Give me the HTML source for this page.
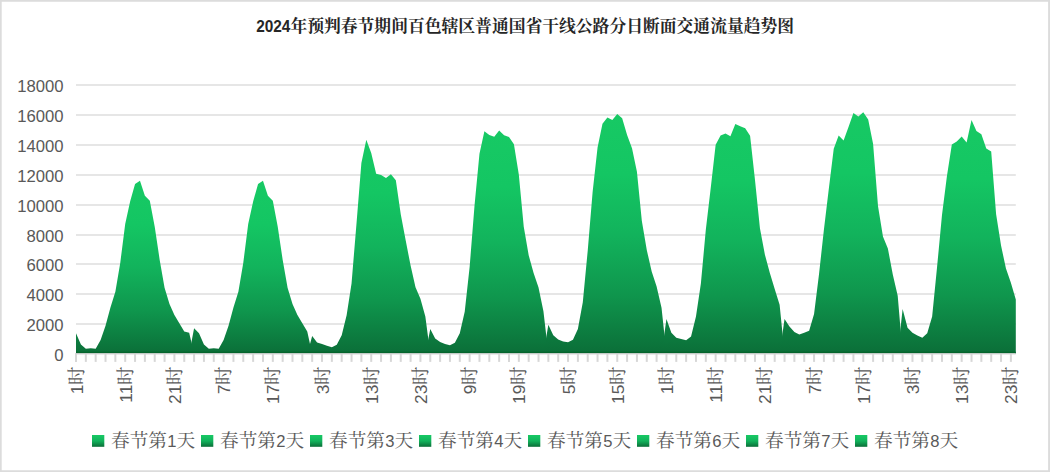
<!DOCTYPE html>
<html lang="zh-CN"><head><meta charset="utf-8"><title>2024年预判春节期间百色辖区普通国省干线公路分日断面交通流量趋势图</title>
<style>html,body{margin:0;padding:0;background:#fff}body{width:1050px;height:472px;overflow:hidden}svg{display:block}text{font-family:"Liberation Sans",sans-serif}text.cj{font-family:"Liberation Serif","Noto Serif CJK SC",serif;font-size:18.67px;text-anchor:start}text.tt{font-family:"Liberation Serif","Noto Serif CJK SC",serif;font-size:16.79px;font-weight:bold;text-anchor:start}</style>
</head><body>
<svg width="1050" height="472" viewBox="0 0 1050 472">
<defs>
<linearGradient id="ga" x1="0" y1="0" x2="0" y2="1"><stop offset="0" stop-color="#17c964"/><stop offset="0.25" stop-color="#14c663"/><stop offset="0.5" stop-color="#12b35c"/><stop offset="0.75" stop-color="#0f964d"/><stop offset="1" stop-color="#0b6e38"/></linearGradient>
<linearGradient id="gs" x1="0" y1="0" x2="0" y2="1"><stop offset="0" stop-color="#17c964"/><stop offset="0.5" stop-color="#12b35c"/><stop offset="1" stop-color="#0b6e38"/></linearGradient>
</defs>
<rect x="0" y="0" width="1050" height="472" fill="#fff"/>
<path d="M0 0H1050V472H0Z M1.7 1.8H1048.1V470.2H1.7Z" fill="#dcdcdc" fill-rule="evenodd"/>
<g stroke="#dedede" stroke-width="1.4" fill="none">
<line x1="76" y1="324" x2="1015.8" y2="324"/>
<line x1="76" y1="294" x2="1015.8" y2="294"/>
<line x1="76" y1="264" x2="1015.8" y2="264"/>
<line x1="76" y1="235" x2="1015.8" y2="235"/>
<line x1="76" y1="205" x2="1015.8" y2="205"/>
<line x1="76" y1="175" x2="1015.8" y2="175"/>
<line x1="76" y1="145" x2="1015.8" y2="145"/>
<line x1="76" y1="115" x2="1015.8" y2="115"/>
<line x1="76" y1="85" x2="1015.8" y2="85"/>
</g>
<g stroke="#d7d7d7" stroke-width="2" fill="none">
<line x1="76" y1="353.2" x2="76" y2="361.9"/>
<line x1="85.84" y1="353.2" x2="85.84" y2="361.9"/>
<line x1="95.68" y1="353.2" x2="95.68" y2="361.9"/>
<line x1="105.52" y1="353.2" x2="105.52" y2="361.9"/>
<line x1="115.36" y1="353.2" x2="115.36" y2="361.9"/>
<line x1="125.2" y1="353.2" x2="125.2" y2="361.9"/>
<line x1="135.05" y1="353.2" x2="135.05" y2="361.9"/>
<line x1="144.89" y1="353.2" x2="144.89" y2="361.9"/>
<line x1="154.73" y1="353.2" x2="154.73" y2="361.9"/>
<line x1="164.57" y1="353.2" x2="164.57" y2="361.9"/>
<line x1="174.41" y1="353.2" x2="174.41" y2="361.9"/>
<line x1="184.25" y1="353.2" x2="184.25" y2="361.9"/>
<line x1="194.09" y1="353.2" x2="194.09" y2="361.9"/>
<line x1="203.93" y1="353.2" x2="203.93" y2="361.9"/>
<line x1="213.77" y1="353.2" x2="213.77" y2="361.9"/>
<line x1="223.61" y1="353.2" x2="223.61" y2="361.9"/>
<line x1="233.45" y1="353.2" x2="233.45" y2="361.9"/>
<line x1="243.29" y1="353.2" x2="243.29" y2="361.9"/>
<line x1="253.14" y1="353.2" x2="253.14" y2="361.9"/>
<line x1="262.98" y1="353.2" x2="262.98" y2="361.9"/>
<line x1="272.82" y1="353.2" x2="272.82" y2="361.9"/>
<line x1="282.66" y1="353.2" x2="282.66" y2="361.9"/>
<line x1="292.5" y1="353.2" x2="292.5" y2="361.9"/>
<line x1="302.34" y1="353.2" x2="302.34" y2="361.9"/>
<line x1="312.18" y1="353.2" x2="312.18" y2="361.9"/>
<line x1="322.02" y1="353.2" x2="322.02" y2="361.9"/>
<line x1="331.86" y1="353.2" x2="331.86" y2="361.9"/>
<line x1="341.7" y1="353.2" x2="341.7" y2="361.9"/>
<line x1="351.54" y1="353.2" x2="351.54" y2="361.9"/>
<line x1="361.38" y1="353.2" x2="361.38" y2="361.9"/>
<line x1="371.23" y1="353.2" x2="371.23" y2="361.9"/>
<line x1="381.07" y1="353.2" x2="381.07" y2="361.9"/>
<line x1="390.91" y1="353.2" x2="390.91" y2="361.9"/>
<line x1="400.75" y1="353.2" x2="400.75" y2="361.9"/>
<line x1="410.59" y1="353.2" x2="410.59" y2="361.9"/>
<line x1="420.43" y1="353.2" x2="420.43" y2="361.9"/>
<line x1="430.27" y1="353.2" x2="430.27" y2="361.9"/>
<line x1="440.11" y1="353.2" x2="440.11" y2="361.9"/>
<line x1="449.95" y1="353.2" x2="449.95" y2="361.9"/>
<line x1="459.79" y1="353.2" x2="459.79" y2="361.9"/>
<line x1="469.63" y1="353.2" x2="469.63" y2="361.9"/>
<line x1="479.47" y1="353.2" x2="479.47" y2="361.9"/>
<line x1="489.32" y1="353.2" x2="489.32" y2="361.9"/>
<line x1="499.16" y1="353.2" x2="499.16" y2="361.9"/>
<line x1="509" y1="353.2" x2="509" y2="361.9"/>
<line x1="518.84" y1="353.2" x2="518.84" y2="361.9"/>
<line x1="528.68" y1="353.2" x2="528.68" y2="361.9"/>
<line x1="538.52" y1="353.2" x2="538.52" y2="361.9"/>
<line x1="548.36" y1="353.2" x2="548.36" y2="361.9"/>
<line x1="558.2" y1="353.2" x2="558.2" y2="361.9"/>
<line x1="568.04" y1="353.2" x2="568.04" y2="361.9"/>
<line x1="577.88" y1="353.2" x2="577.88" y2="361.9"/>
<line x1="587.72" y1="353.2" x2="587.72" y2="361.9"/>
<line x1="597.56" y1="353.2" x2="597.56" y2="361.9"/>
<line x1="607.41" y1="353.2" x2="607.41" y2="361.9"/>
<line x1="617.25" y1="353.2" x2="617.25" y2="361.9"/>
<line x1="627.09" y1="353.2" x2="627.09" y2="361.9"/>
<line x1="636.93" y1="353.2" x2="636.93" y2="361.9"/>
<line x1="646.77" y1="353.2" x2="646.77" y2="361.9"/>
<line x1="656.61" y1="353.2" x2="656.61" y2="361.9"/>
<line x1="666.45" y1="353.2" x2="666.45" y2="361.9"/>
<line x1="676.29" y1="353.2" x2="676.29" y2="361.9"/>
<line x1="686.13" y1="353.2" x2="686.13" y2="361.9"/>
<line x1="695.97" y1="353.2" x2="695.97" y2="361.9"/>
<line x1="705.81" y1="353.2" x2="705.81" y2="361.9"/>
<line x1="715.65" y1="353.2" x2="715.65" y2="361.9"/>
<line x1="725.5" y1="353.2" x2="725.5" y2="361.9"/>
<line x1="735.34" y1="353.2" x2="735.34" y2="361.9"/>
<line x1="745.18" y1="353.2" x2="745.18" y2="361.9"/>
<line x1="755.02" y1="353.2" x2="755.02" y2="361.9"/>
<line x1="764.86" y1="353.2" x2="764.86" y2="361.9"/>
<line x1="774.7" y1="353.2" x2="774.7" y2="361.9"/>
<line x1="784.54" y1="353.2" x2="784.54" y2="361.9"/>
<line x1="794.38" y1="353.2" x2="794.38" y2="361.9"/>
<line x1="804.22" y1="353.2" x2="804.22" y2="361.9"/>
<line x1="814.06" y1="353.2" x2="814.06" y2="361.9"/>
<line x1="823.9" y1="353.2" x2="823.9" y2="361.9"/>
<line x1="833.74" y1="353.2" x2="833.74" y2="361.9"/>
<line x1="843.59" y1="353.2" x2="843.59" y2="361.9"/>
<line x1="853.43" y1="353.2" x2="853.43" y2="361.9"/>
<line x1="863.27" y1="353.2" x2="863.27" y2="361.9"/>
<line x1="873.11" y1="353.2" x2="873.11" y2="361.9"/>
<line x1="882.95" y1="353.2" x2="882.95" y2="361.9"/>
<line x1="892.79" y1="353.2" x2="892.79" y2="361.9"/>
<line x1="902.63" y1="353.2" x2="902.63" y2="361.9"/>
<line x1="912.47" y1="353.2" x2="912.47" y2="361.9"/>
<line x1="922.31" y1="353.2" x2="922.31" y2="361.9"/>
<line x1="932.15" y1="353.2" x2="932.15" y2="361.9"/>
<line x1="941.99" y1="353.2" x2="941.99" y2="361.9"/>
<line x1="951.83" y1="353.2" x2="951.83" y2="361.9"/>
<line x1="961.68" y1="353.2" x2="961.68" y2="361.9"/>
<line x1="971.52" y1="353.2" x2="971.52" y2="361.9"/>
<line x1="981.36" y1="353.2" x2="981.36" y2="361.9"/>
<line x1="991.2" y1="353.2" x2="991.2" y2="361.9"/>
<line x1="1001.04" y1="353.2" x2="1001.04" y2="361.9"/>
<line x1="1010.88" y1="353.2" x2="1010.88" y2="361.9"/>
</g>
<g fill="url(#ga)">
<path d="M76 354.05 L76 333.15 L80.92 344.43 L85.84 348.8 L90.76 348.21 L95.68 348.8 L100.6 340.05 L105.52 325.65 L110.44 307.51 L115.36 291.71 L120.28 262.64 L125.2 223.88 L130.12 201.51 L135.05 184 L139.97 180.64 L144.89 195.85 L149.81 200.77 L154.73 226.86 L159.65 259.65 L164.57 287.68 L169.49 303.93 L174.41 314.99 L179.33 323.13 L184.25 331.52 L189.17 332.79 L194.09 354.05 Z"><title>春节第1天</title></path>
<path d="M189.17 354.05 L194.09 328.15 L199.01 333.15 L203.93 344.43 L208.85 348.8 L213.77 348.21 L218.69 348.8 L223.61 340.05 L228.53 325.65 L233.45 307.51 L238.37 291.71 L243.29 262.64 L248.21 223.88 L253.14 201.51 L258.06 184 L262.98 180.64 L267.9 195.85 L272.82 200.77 L277.74 226.86 L282.66 259.65 L287.58 287.68 L292.5 303.93 L297.42 314.99 L302.34 323.13 L307.26 331.52 L312.18 354.05 Z"><title>春节第2天</title></path>
<path d="M307.26 354.05 L312.18 336.04 L317.1 342.39 L322.02 344.03 L326.94 345.82 L331.86 347.31 L336.78 344.78 L341.7 335.3 L346.62 315.26 L351.54 283.51 L356.46 223.88 L361.38 163.05 L366.3 139.65 L371.23 153.06 L376.15 173.64 L381.07 174.98 L385.99 178.11 L390.91 174.31 L395.83 180.2 L400.75 214.19 L405.67 240.27 L410.59 265.62 L415.51 287.23 L420.43 298.71 L425.35 316.45 L430.27 354.05 Z"><title>春节第3天</title></path>
<path d="M425.35 354.05 L430.27 329.03 L435.19 338.55 L440.11 342.05 L445.03 344.03 L449.95 345.31 L454.87 342.81 L459.79 333.3 L464.71 311.83 L469.63 267.11 L474.55 205.24 L479.47 153.81 L484.39 131.15 L489.32 134.88 L494.24 136.67 L499.16 130.4 L504.08 135.18 L509 137.11 L513.92 144.27 L518.84 174.68 L523.76 226.86 L528.68 255.18 L533.6 273.07 L538.52 287.38 L543.44 311.23 L548.36 354.05 Z"><title>春节第4天</title></path>
<path d="M543.44 354.05 L548.36 324.77 L553.28 335.3 L558.2 339.56 L563.12 341.56 L568.04 342.3 L572.96 339.8 L577.88 329.03 L582.8 302.14 L587.72 250.71 L592.64 191.82 L597.56 147.62 L602.48 123.82 L607.41 117.55 L612.33 120.06 L617.25 114.05 L622.17 118.18 L627.09 135.1 L632.01 148.25 L636.93 171.7 L641.85 220.89 L646.77 249.96 L651.69 271.58 L656.61 286.49 L661.53 307.75 L666.45 354.05 Z"><title>春节第5天</title></path>
<path d="M661.53 354.05 L666.45 319.02 L671.37 332.79 L676.29 337.8 L681.21 339.05 L686.13 340.3 L691.05 336.55 L695.97 316.51 L700.89 283.51 L705.81 229.84 L710.73 188.1 L715.65 144.87 L720.57 135.55 L725.5 133.43 L730.42 136.17 L735.34 124.11 L740.26 126.23 L745.18 128.35 L750.1 135.8 L755.02 180.35 L759.94 228.35 L764.86 254.44 L769.78 272.68 L774.7 288.96 L779.62 304.73 L784.54 354.05 Z"><title>春节第6天</title></path>
<path d="M779.62 354.05 L784.54 319.02 L789.46 326.53 L794.38 332.03 L799.3 334.53 L804.22 332.79 L809.14 330.78 L814.06 314.01 L818.98 274.56 L823.9 229.84 L828.82 188.84 L833.74 148.67 L838.66 135.47 L843.59 140.39 L848.51 126.98 L853.43 112.92 L858.35 116.54 L863.27 112.17 L868.19 119.43 L873.11 144.12 L878.03 206.24 L882.95 236.55 L887.87 248.47 L892.79 274.56 L897.71 295.73 L902.63 354.05 Z"><title>春节第7天</title></path>
<path d="M897.71 354.05 L902.63 309 L907.55 327.78 L912.47 332.79 L917.39 335.53 L922.31 337.8 L927.23 333.3 L932.15 316.51 L937.07 267.11 L941.99 214.93 L946.91 176.17 L951.83 144.57 L956.75 141.39 L961.68 136.55 L966.6 142.38 L971.52 120.01 L976.44 130.96 L981.36 134.31 L986.28 148.59 L991.2 151.42 L996.12 214.19 L1001.04 245.49 L1005.96 268.6 L1010.88 282.76 L1015.8 299.46 L1015.8 354.05 Z"><title>春节第8天</title></path>
</g>
<rect x="75.3" y="353.1" width="940.5" height="1.4" fill="#d8d6d7"/>
<rect x="76" y="351.7" width="939.8" height="1.3" fill="#05652d"/>
<g fill="#595959" font-size="15.6" text-anchor="end">
<text transform="translate(63.6 360.9) scale(1.07 1)">0</text>
<text transform="translate(63.6 330.9) scale(1.07 1)">2000</text>
<text transform="translate(63.6 300.9) scale(1.07 1)">4000</text>
<text transform="translate(63.6 270.9) scale(1.07 1)">6000</text>
<text transform="translate(63.6 241.9) scale(1.07 1)">8000</text>
<text transform="translate(63.6 211.9) scale(1.07 1)">10000</text>
<text transform="translate(63.6 181.9) scale(1.07 1)">12000</text>
<text transform="translate(63.6 151.9) scale(1.07 1)">14000</text>
<text transform="translate(63.6 121.9) scale(1.07 1)">16000</text>
<text transform="translate(63.6 91.9) scale(1.07 1)">18000</text>
</g>
<g fill="#595959" font-size="17.4" text-anchor="end">
<g transform="translate(82.6 366.5) rotate(-90)" role="img" aria-label="1时"><title>1时</title>
<text x="-18.2" y="0">1</text>
<text class="cj" x="-18.4" y="-0.1">时</text>
</g>
<g transform="translate(131.8 366.5) rotate(-90)" role="img" aria-label="11时"><title>11时</title>
<text x="-18.2" y="0">11</text>
<text class="cj" x="-18.4" y="-0.1">时</text>
</g>
<g transform="translate(181.01 366.5) rotate(-90)" role="img" aria-label="21时"><title>21时</title>
<text x="-18.2" y="0">21</text>
<text class="cj" x="-18.4" y="-0.1">时</text>
</g>
<g transform="translate(230.21 366.5) rotate(-90)" role="img" aria-label="7时"><title>7时</title>
<text x="-18.2" y="0">7</text>
<text class="cj" x="-18.4" y="-0.1">时</text>
</g>
<g transform="translate(279.42 366.5) rotate(-90)" role="img" aria-label="17时"><title>17时</title>
<text x="-18.2" y="0">17</text>
<text class="cj" x="-18.4" y="-0.1">时</text>
</g>
<g transform="translate(328.62 366.5) rotate(-90)" role="img" aria-label="3时"><title>3时</title>
<text x="-18.2" y="0">3</text>
<text class="cj" x="-18.4" y="-0.1">时</text>
</g>
<g transform="translate(377.83 366.5) rotate(-90)" role="img" aria-label="13时"><title>13时</title>
<text x="-18.2" y="0">13</text>
<text class="cj" x="-18.4" y="-0.1">时</text>
</g>
<g transform="translate(427.03 366.5) rotate(-90)" role="img" aria-label="23时"><title>23时</title>
<text x="-18.2" y="0">23</text>
<text class="cj" x="-18.4" y="-0.1">时</text>
</g>
<g transform="translate(476.23 366.5) rotate(-90)" role="img" aria-label="9时"><title>9时</title>
<text x="-18.2" y="0">9</text>
<text class="cj" x="-18.4" y="-0.1">时</text>
</g>
<g transform="translate(525.44 366.5) rotate(-90)" role="img" aria-label="19时"><title>19时</title>
<text x="-18.2" y="0">19</text>
<text class="cj" x="-18.4" y="-0.1">时</text>
</g>
<g transform="translate(574.64 366.5) rotate(-90)" role="img" aria-label="5时"><title>5时</title>
<text x="-18.2" y="0">5</text>
<text class="cj" x="-18.4" y="-0.1">时</text>
</g>
<g transform="translate(623.85 366.5) rotate(-90)" role="img" aria-label="15时"><title>15时</title>
<text x="-18.2" y="0">15</text>
<text class="cj" x="-18.4" y="-0.1">时</text>
</g>
<g transform="translate(673.05 366.5) rotate(-90)" role="img" aria-label="1时"><title>1时</title>
<text x="-18.2" y="0">1</text>
<text class="cj" x="-18.4" y="-0.1">时</text>
</g>
<g transform="translate(722.25 366.5) rotate(-90)" role="img" aria-label="11时"><title>11时</title>
<text x="-18.2" y="0">11</text>
<text class="cj" x="-18.4" y="-0.1">时</text>
</g>
<g transform="translate(771.46 366.5) rotate(-90)" role="img" aria-label="21时"><title>21时</title>
<text x="-18.2" y="0">21</text>
<text class="cj" x="-18.4" y="-0.1">时</text>
</g>
<g transform="translate(820.66 366.5) rotate(-90)" role="img" aria-label="7时"><title>7时</title>
<text x="-18.2" y="0">7</text>
<text class="cj" x="-18.4" y="-0.1">时</text>
</g>
<g transform="translate(869.87 366.5) rotate(-90)" role="img" aria-label="17时"><title>17时</title>
<text x="-18.2" y="0">17</text>
<text class="cj" x="-18.4" y="-0.1">时</text>
</g>
<g transform="translate(919.07 366.5) rotate(-90)" role="img" aria-label="3时"><title>3时</title>
<text x="-18.2" y="0">3</text>
<text class="cj" x="-18.4" y="-0.1">时</text>
</g>
<g transform="translate(968.28 366.5) rotate(-90)" role="img" aria-label="13时"><title>13时</title>
<text x="-18.2" y="0">13</text>
<text class="cj" x="-18.4" y="-0.1">时</text>
</g>
<g transform="translate(1017.48 366.5) rotate(-90)" role="img" aria-label="23时"><title>23时</title>
<text x="-18.2" y="0">23</text>
<text class="cj" x="-18.4" y="-0.1">时</text>
</g>
</g>
<g fill="#595959" font-size="16.6">
<g role="img" aria-label="春节第1天"><title>春节第1天</title>
<rect x="92" y="435" width="12.3" height="11.8" fill="url(#gs)"/>
<text class="cj" x="111" y="447.4">春节第</text>
<text x="167.21" y="446.8">1</text>
<text class="cj" x="176.51" y="447.4">天</text>
</g>
<g role="img" aria-label="春节第2天"><title>春节第2天</title>
<rect x="201" y="435" width="12.3" height="11.8" fill="url(#gs)"/>
<text class="cj" x="220" y="447.4">春节第</text>
<text x="276.21" y="446.8">2</text>
<text class="cj" x="285.51" y="447.4">天</text>
</g>
<g role="img" aria-label="春节第3天"><title>春节第3天</title>
<rect x="310" y="435" width="12.3" height="11.8" fill="url(#gs)"/>
<text class="cj" x="329" y="447.4">春节第</text>
<text x="385.21" y="446.8">3</text>
<text class="cj" x="394.51" y="447.4">天</text>
</g>
<g role="img" aria-label="春节第4天"><title>春节第4天</title>
<rect x="419" y="435" width="12.3" height="11.8" fill="url(#gs)"/>
<text class="cj" x="438" y="447.4">春节第</text>
<text x="494.21" y="446.8">4</text>
<text class="cj" x="503.51" y="447.4">天</text>
</g>
<g role="img" aria-label="春节第5天"><title>春节第5天</title>
<rect x="528" y="435" width="12.3" height="11.8" fill="url(#gs)"/>
<text class="cj" x="547" y="447.4">春节第</text>
<text x="603.21" y="446.8">5</text>
<text class="cj" x="612.51" y="447.4">天</text>
</g>
<g role="img" aria-label="春节第6天"><title>春节第6天</title>
<rect x="637" y="435" width="12.3" height="11.8" fill="url(#gs)"/>
<text class="cj" x="656" y="447.4">春节第</text>
<text x="712.21" y="446.8">6</text>
<text class="cj" x="721.51" y="447.4">天</text>
</g>
<g role="img" aria-label="春节第7天"><title>春节第7天</title>
<rect x="746" y="435" width="12.3" height="11.8" fill="url(#gs)"/>
<text class="cj" x="765" y="447.4">春节第</text>
<text x="821.21" y="446.8">7</text>
<text class="cj" x="830.51" y="447.4">天</text>
</g>
<g role="img" aria-label="春节第8天"><title>春节第8天</title>
<rect x="855" y="435" width="12.3" height="11.8" fill="url(#gs)"/>
<text class="cj" x="874" y="447.4">春节第</text>
<text x="930.21" y="446.8">8</text>
<text class="cj" x="939.51" y="447.4">天</text>
</g>
</g>
<g fill="#262626" role="img" aria-label="2024年预判春节期间百色辖区普通国省干线公路分日断面交通流量趋势图">
<text x="256.2" y="32" font-size="16" font-weight="bold" stroke="none" textLength="34.2" lengthAdjust="spacingAndGlyphs">2024</text>
<text class="tt" x="290.4" y="31.5" stroke="none" textLength="503.7" lengthAdjust="spacing">年预判春节期间百色辖区普通国省干线公路分日断面交通流量趋势图</text>
</g>
</svg>
</body></html>
